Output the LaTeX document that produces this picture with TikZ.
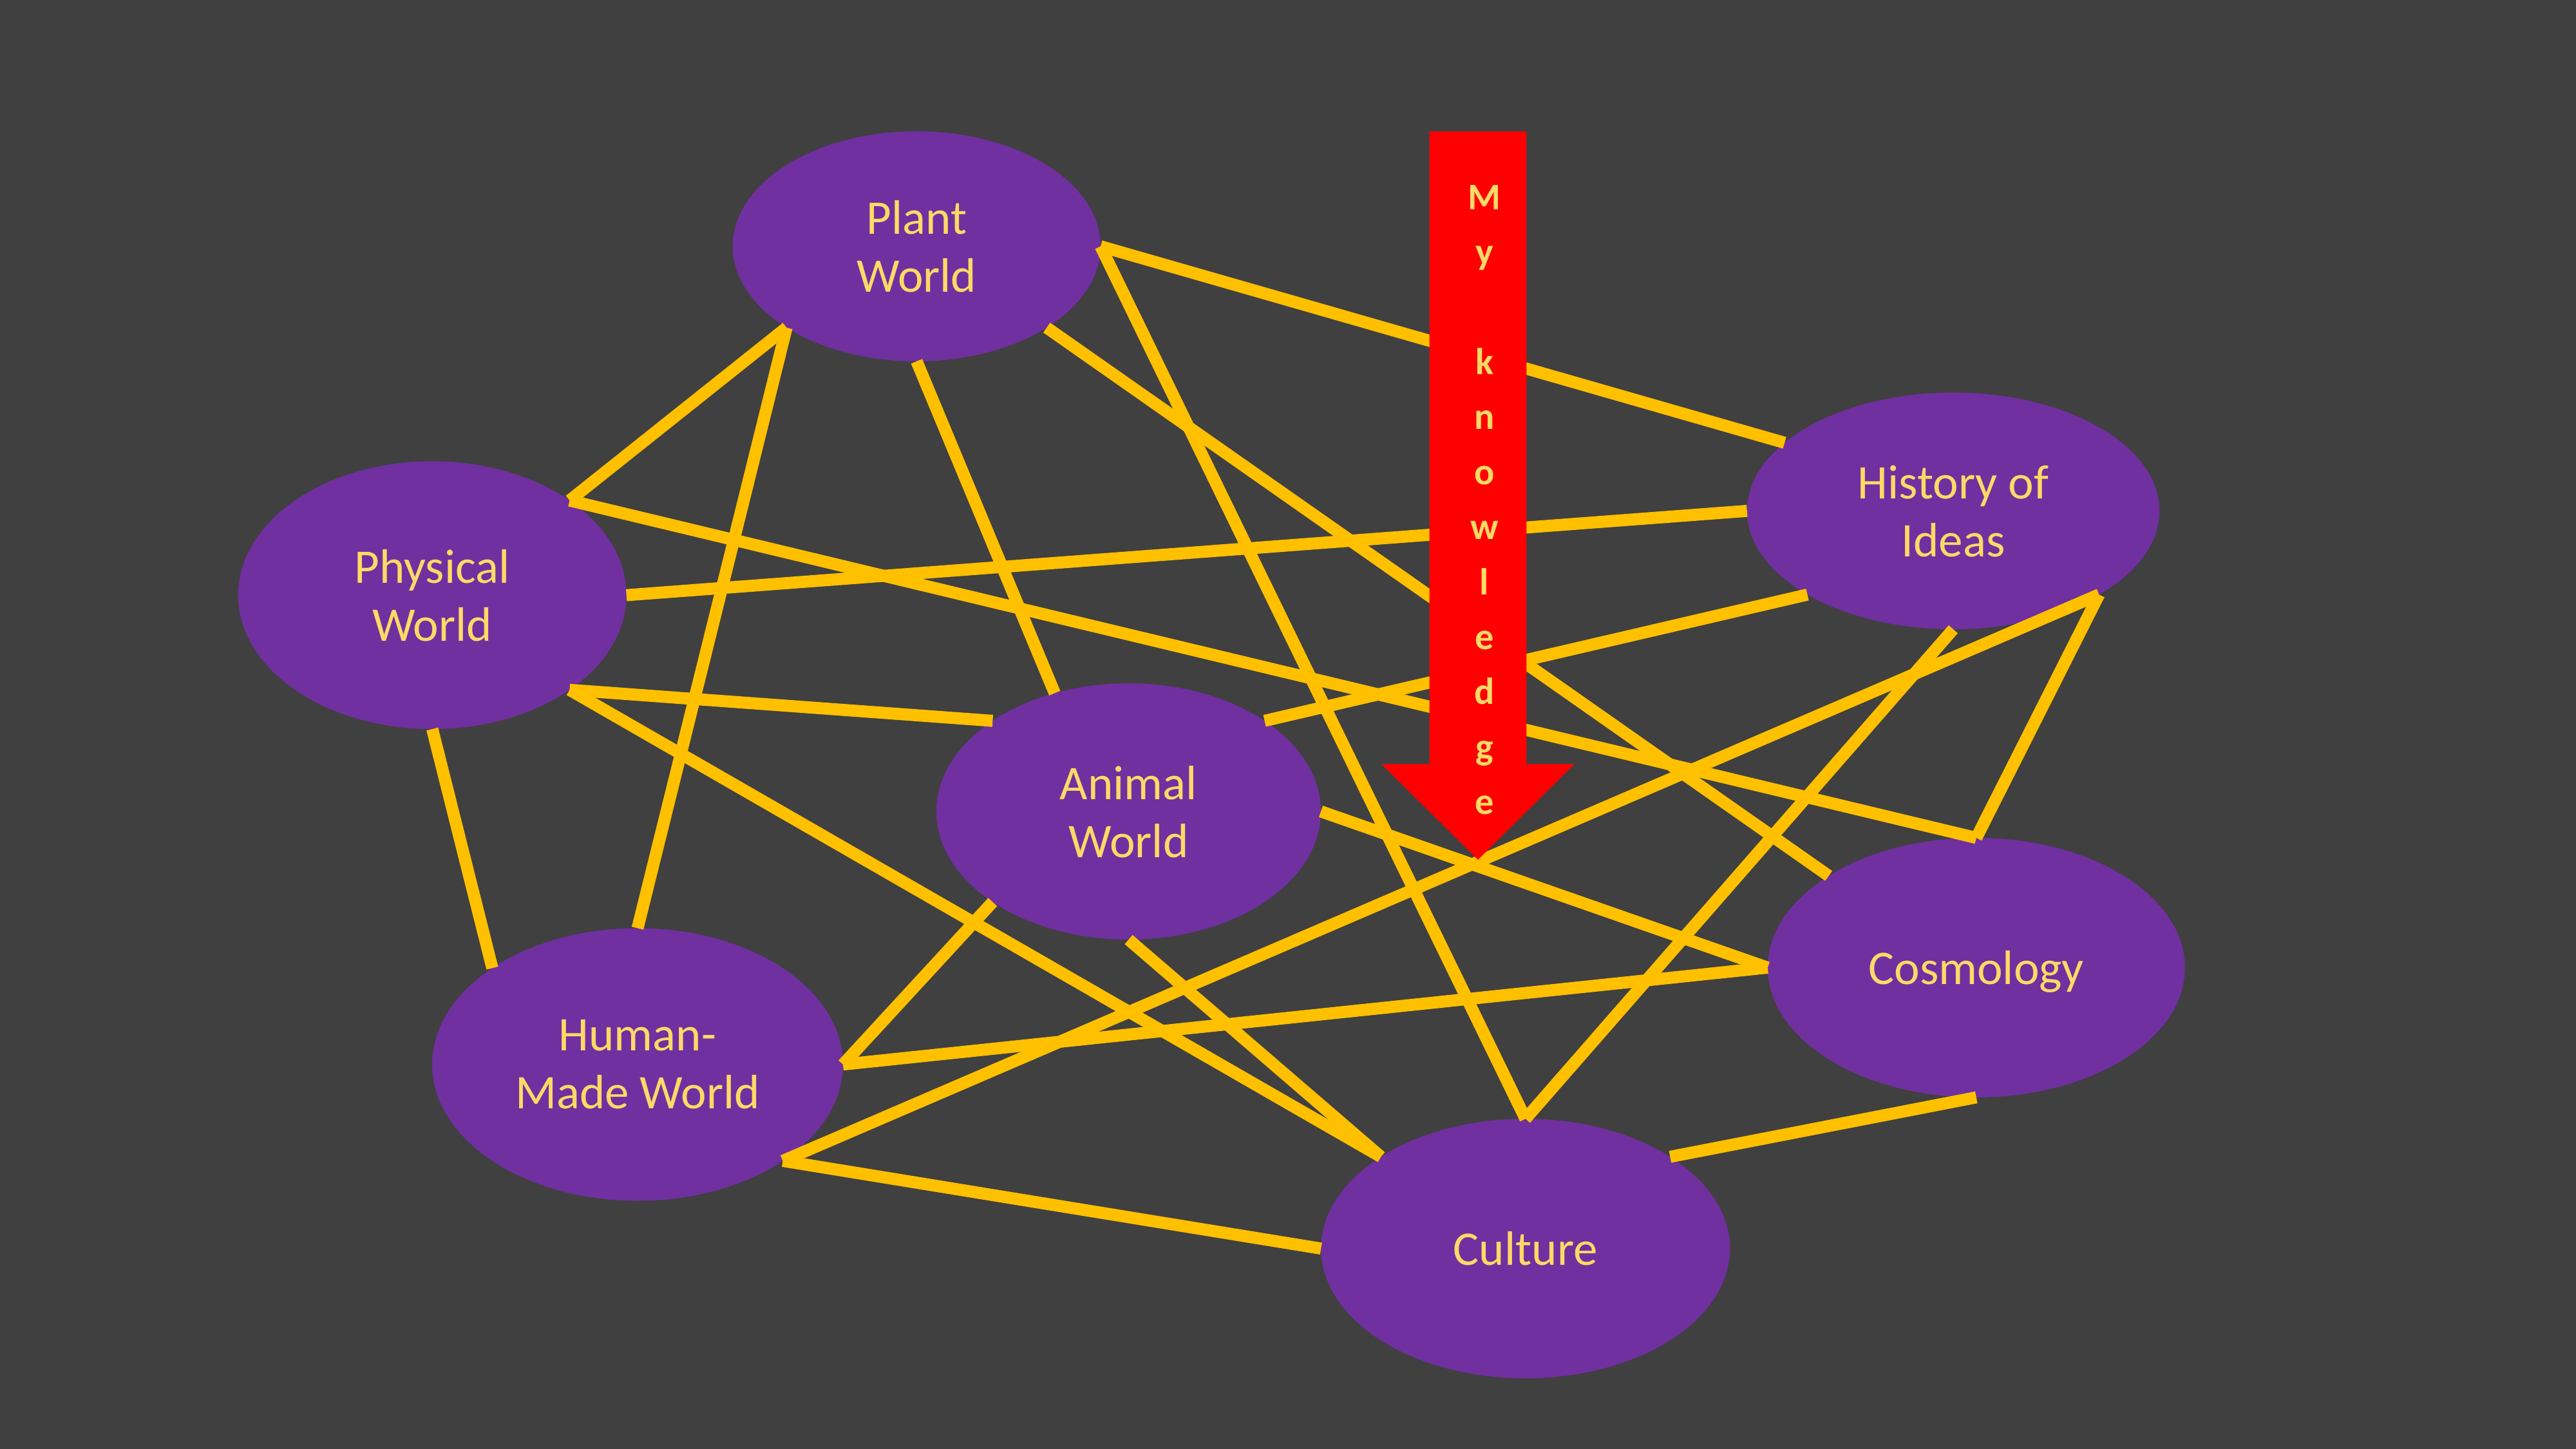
\documentclass[tikz,border=0pt]{standalone}
\usepackage{fontspec}
\setmainfont{Carlito}
\usetikzlibrary{shapes.geometric}
\definecolor{slidebg}{HTML}{404040}
\definecolor{topicfill}{HTML}{7030A0}
\definecolor{topictext}{HTML}{FFD966}
\definecolor{linkcol}{HTML}{FFC000}
\definecolor{arrowred}{HTML}{FF0000}
\begin{document}
\begin{tikzpicture}[x=1pt, y=-1pt,
        topic/.style={ellipse, fill=topicfill, inner sep=0pt, outer sep=0pt, text=topictext, align=center, text depth=0pt, font=\fontsize{18}{21.6}\selectfont},
        link/.style={linkcol, line width=4.5pt}]
        \fill[slidebg] (0,0) rectangle (960,540);

        \node[topic, minimum width=137.1pt, minimum height=85.7pt] (plant) at (341.6,91.8) {Plant\\World};
        \node[topic, minimum width=144.7pt, minimum height=99.8pt] (phys) at (161.1,221.8) {Physical\\World};
        \node[topic, minimum width=153.7pt, minimum height=88.2pt] (hist) at (727.9,190.4) {History of\\Ideas};
        \node[topic, minimum width=143.3pt, minimum height=95.5pt] (animal) at (420.6,302.4) {Animal\\World};
        \node[topic, minimum width=155.5pt, minimum height=96.7pt] (cosmo) at (736.5,360.6) {Cosmology};
        \node[topic, minimum width=153.1pt, minimum height=101.6pt] (human) at (237.6,396.7) {Human-\\Made World};
        \node[topic, minimum width=152.4pt, minimum height=96.7pt] (culture) at (568.5,465.3) {Culture};

        \draw[link] (plant.east) -- (hist.158);
        \draw[link] (plant.east) -- (culture.north);
        \draw[link] (plant.south east) -- (cosmo.north west);
        \draw[link] (plant.south) -- (animal.122);
        \draw[link] (plant.south west) -- (phys.north east);
        \draw[link] (plant.south west) -- (human.north);
        \draw[link] (phys.north east) -- (cosmo.north);
        \draw[link] (phys.east) -- (hist.west);
        \draw[link] (phys.south east) -- (animal.north west);
        \draw[link] (phys.south east) -- (culture.north west);
        \draw[link] (phys.south) -- (human.north west);
        \draw[link] (hist.south west) -- (animal.north east);
        \draw[link] (hist.south) -- (culture.north);
        \draw[link] (hist.south east) -- (cosmo.north);
        \draw[link] (hist.south east) -- (human.south east);
        \draw[link] (animal.east) -- (cosmo.west);
        \draw[link] (animal.south west) -- (human.east);
        \draw[link] (animal.south) -- (culture.north west);
        \draw[link] (human.east) -- (cosmo.west);
        \draw[link] (human.south east) -- (culture.west);
        \draw[link] (cosmo.south) -- (culture.north east);

        % red arrow with the stacked letters
        \fill[arrowred] (532.7,49) -- (568.9,49) -- (568.9,284.7) -- (586.8,284.7) -- (550.8,320.4) -- (514.8,284.7) -- (532.7,284.7) -- cycle;
        \node[text=topictext, align=center, inner sep=0pt, font=\bfseries\fontsize{14}{20.5}\selectfont] (know) at (553.2,186.3) {M\\y\\~\\k\\n\\o\\w\\l\\e\\d\\g\\e};
    \end{tikzpicture}
\end{document}
